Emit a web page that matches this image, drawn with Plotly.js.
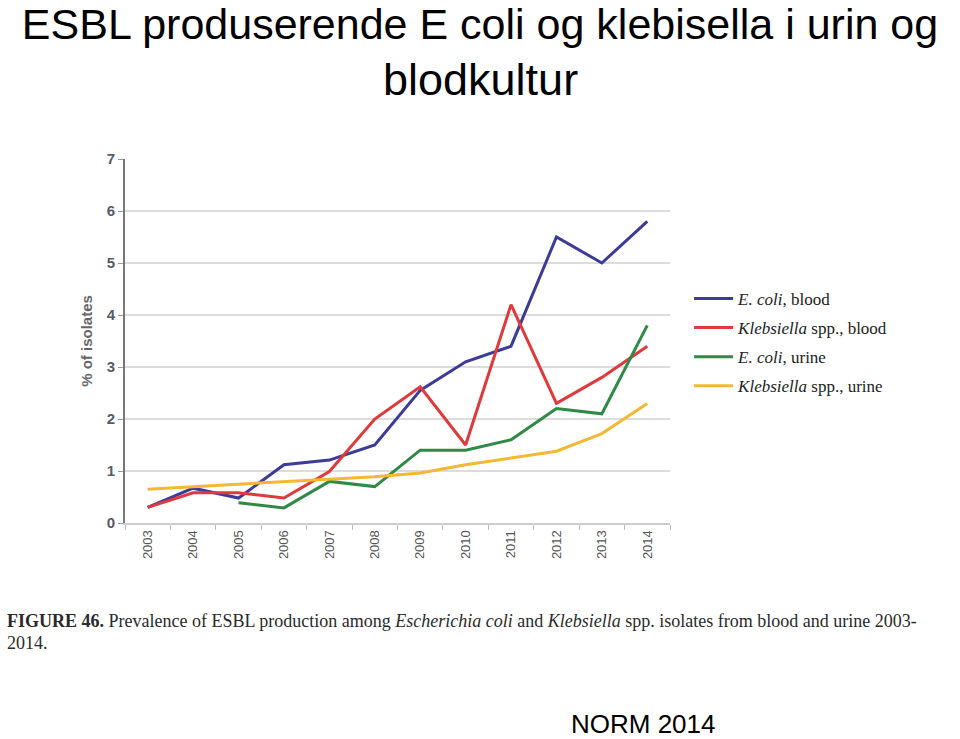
<!DOCTYPE html>
<html><head><meta charset="utf-8">
<script src="https://cdn.plot.ly/plotly-3.0.1.min.js"></script>
<style>html,body{margin:0;padding:0;background:#fff}#chart{width:960px;height:739px}</style>
</head><body><div id="chart"></div>
<script>
const years = ["2003","2004","2005","2006","2007","2008","2009","2010","2011","2012","2013","2014"];
const ecoliBlood = [0.3,0.67,0.48,1.12,1.21,1.5,2.55,3.1,3.4,5.5,5.0,5.8];
const klebBlood = [0.3,0.58,0.58,0.48,0.99,2.0,2.62,1.5,4.2,2.3,2.8,3.4];
const ecoliUrine = [null,null,0.39,0.29,0.8,0.7,1.4,1.4,1.6,2.2,2.1,3.8];
const klebUrine = [0.65,0.7,0.74,0.79,0.84,0.89,0.96,1.12,1.25,1.38,1.72,2.3];
const seriesNames = ["<i>E. coli</i>, blood","<i>Klebsiella</i> spp., blood","<i>E. coli</i>, urine","<i>Klebsiella</i> spp., urine"];
const colors = ["#3c3c96","#e0393b","#2f8a46","#f3b834"];
const values = [ecoliBlood, klebBlood, ecoliUrine, klebUrine];

const traces = values.map((v,i)=>({
  x: years, y: v, type:'scatter', mode:'lines', name: seriesNames[i],
  legendgroup: 'g'+i, line:{color:colors[i], width:3}, connectgaps:false
}));

const layout = {
  width:960, height:739,
  paper_bgcolor:'#fff', plot_bgcolor:'#fff',
  margin:{l:125, r:290, t:159, b:216},
  title:{text:"ESBL produserende E coli og klebisella i urin og", font:{family:"Liberation Sans, Arial", size:43, color:"#000"},
         x:0.5, xanchor:'center', xref:'container', y:1-24/739, yref:'container', yanchor:'middle'},
  showlegend:true,
  legend:{x:1.035, xanchor:'left', y:0.665, yanchor:'top', font:{family:"Liberation Serif, Times New Roman", size:17, color:"#222"},
          tracegroupgap:4, bgcolor:'rgba(0,0,0,0)', itemwidth:39},
  xaxis:{type:'category', range:[-0.5,11.5], tickson:'boundaries', ticks:'outside', ticklen:5, tickcolor:'#bbb',
         showline:true, linecolor:'#ccc', linewidth:2, showgrid:false, tickangle:-90,
         tickfont:{family:"Liberation Sans, Arial", size:13, color:"#555"}, zeroline:false},
  yaxis:{range:[0,7], dtick:1, showgrid:true, gridcolor:'#dcdcdc', gridwidth:2, showline:true, linecolor:'#777', linewidth:2,
         ticks:'outside', ticklen:5, tickcolor:'#999', zeroline:false,
         tickfont:{family:"Liberation Sans, Arial", size:15, color:"#5a5a66", weight:'bold'},
         title:{text:"% of isolates", font:{family:"Liberation Sans, Arial", size:15, color:"#666", weight:'bold'}, standoff:10}},
  annotations:[
    {text:"blodkultur", xref:'paper', yref:'paper', x:(480-125)/545, y:1+(159-80)/364, xanchor:'center', yanchor:'middle', showarrow:false,
     font:{family:"Liberation Sans, Arial", size:45, color:"#000"}},
    {text:"<b>FIGURE 46.</b> Prevalence of ESBL production among <i>Escherichia coli</i> and <i>Klebsiella</i> spp. isolates from blood and urine 2003-",
     xref:'paper', yref:'paper', x:(5-125)/545, y:1-(621-159)/364, xanchor:'left', yanchor:'middle', showarrow:false,
     font:{family:"Liberation Serif, Times New Roman", size:18, color:"#2a2a2a"}},
    {text:"2014.", xref:'paper', yref:'paper', x:(5-125)/545, y:1-(643-159)/364, xanchor:'left', yanchor:'middle', showarrow:false,
     font:{family:"Liberation Serif, Times New Roman", size:18, color:"#2a2a2a"}},
    {text:"NORM 2014", xref:'paper', yref:'paper', x:(643-125)/545, y:1-(724-159)/364, xanchor:'center', yanchor:'middle', showarrow:false,
     font:{family:"Liberation Sans, Arial", size:26, color:"#000"}}
  ]
};
Plotly.newPlot('chart', traces, layout, {displayModeBar:false, staticPlot:true});
</script></body></html>
